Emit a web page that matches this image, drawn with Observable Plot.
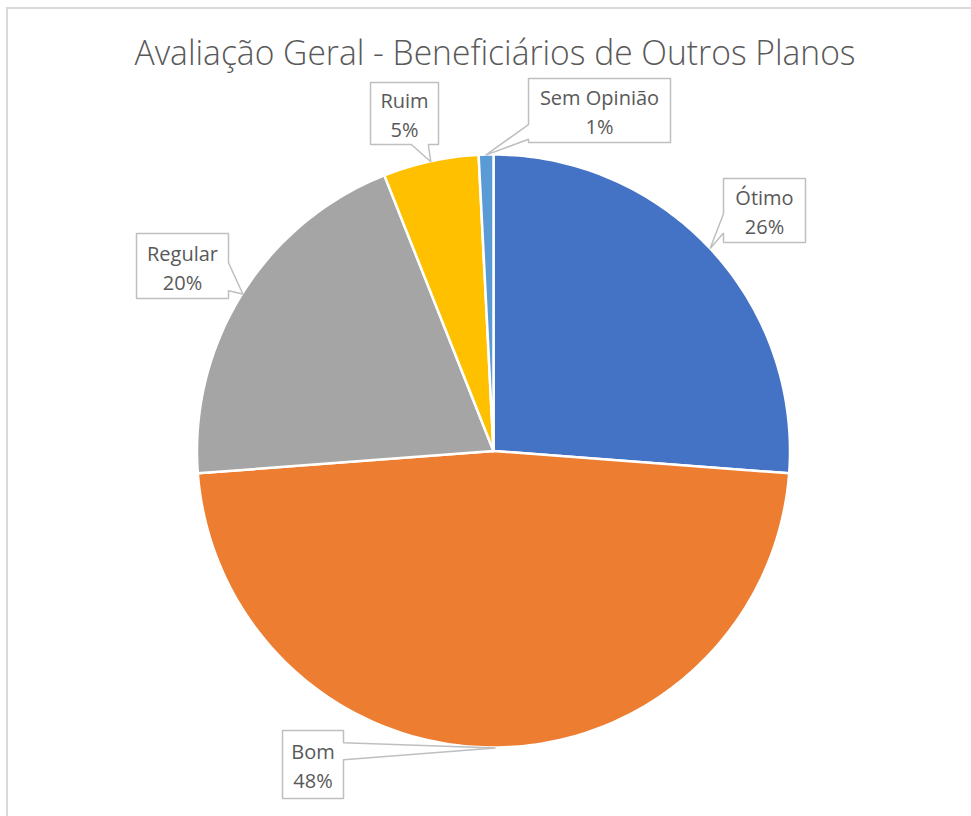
<!DOCTYPE html>
<html>
<head>
<meta charset="utf-8">
<script src="https://cdn.jsdelivr.net/npm/d3@7"></script>
<script src="https://cdn.jsdelivr.net/npm/@observablehq/plot@0.6"></script>
<style>
  html, body { margin: 0; padding: 0; background: #fff; }
  #wrap { position: relative; width: 971px; height: 816px; overflow: hidden; }
  #frame { position: absolute; left: 6px; top: 7px; width: 1000px; height: 1000px;
           border-left: 2px solid #d9d9d9; border-top: 2px solid #d9d9d9; box-sizing: border-box; }
  #title { position: absolute; top: 34px; left: 494.5px; transform-origin: 0 0;
           white-space: nowrap; font-family: "Open Sans", sans-serif; font-weight: 300;
           font-size: 35px; color: #595959; line-height: 1; }
  #chart { position: absolute; left: 0; top: 0; }
</style>
</head>
<body>
<div id="wrap">
  <div id="frame"></div>
  <div id="chart"></div>
  <div id="title"></div>
</div>
<script>
// ---- data ----
const title = "Avaliação Geral - Beneficiários de Outros Planos";
const categories = ["Ótimo", "Bom", "Regular", "Ruim", "Sem Opinião"];
const values = [26.2, 47.6, 20.2, 5.2, 0.8];
const colors = ["#4472C4", "#ED7D31", "#A5A5A5", "#FFC000", "#5B9BD5"];

// ---- layout (pixels) ----
const CX = 493.5, CY = 451, R = 296.5;
const labelLayout = {
  "Ótimo":       {box: [723, 178, 805, 242], side: "left",   base: [0.55, 0.85], tip: 46.8},
  "Bom":         {box: [282, 730, 343, 798], side: "right",  base: [0.18, 0.43], tip: 179.7},
  "Regular":     {box: [136, 233, 228, 298], side: "right",  base: [0.45, 0.88], tip: 302.1},
  "Ruim":        {box: [370, 82, 438, 144],  side: "bottom", base: [0.60, 0.85], tip: 347.7},
  "Sem Opinião": {box: [528, 78, 670, 142],  side: "left",   base: [0.72, 0.95], tip: 358.4}
};

// title: fit to reference width (721px) by horizontal scaling
const titleEl = document.getElementById("title");
titleEl.textContent = title;
{
  const w = titleEl.getBoundingClientRect().width;
  const s = 721 / w;
  titleEl.style.transform = `translateX(${-360.5}px) scaleX(${s})`;
}

const U = px => (px - CX) / R;
const V = py => (CY - py) / R;

// pie slices from values
const total = d3.sum(values);
const slices = [];
let acc = 0;
categories.forEach((c, i) => {
  const a0 = acc / total * 2 * Math.PI;
  acc += values[i];
  const a1 = acc / total * 2 * Math.PI;
  const n = Math.max(4, Math.ceil((a1 - a0) / (Math.PI / 180)));
  for (let k = 0; k <= n; ++k) {
    const a = a0 + (a1 - a0) * k / n;
    slices.push({key: c, x: Math.sin(a), y: Math.cos(a), x0: 0, y0: 0});
  }
});

// callouts
const callouts = [];
const labels = [];
categories.forEach((c, i) => {
  const L = labelLayout[c];
  const [x0, y0, x1, y1] = L.box;
  const w = x1 - x0, h = y1 - y0;
  const ta = L.tip * Math.PI / 180;
  const tip = [CX + R * Math.sin(ta), CY - R * Math.cos(ta)];
  const [f0, f1] = L.base;
  const pts = [[x0, y0]];
  if (L.side === "top") pts.push([x0 + f0 * w, y0], tip, [x0 + f1 * w, y0]);
  pts.push([x1, y0]);
  if (L.side === "right") pts.push([x1, y0 + f0 * h], tip, [x1, y0 + f1 * h]);
  pts.push([x1, y1]);
  if (L.side === "bottom") pts.push([x0 + f1 * w, y1], tip, [x0 + f0 * w, y1]);
  pts.push([x0, y1]);
  if (L.side === "left") pts.push([x0, y0 + f1 * h], tip, [x0, y0 + f0 * h]);
  pts.push([x0, y0]);
  pts.forEach(([px, py]) => callouts.push({key: c, x: U(px), y: V(py)}));
  labels.push({key: c, x: U((x0 + x1) / 2), y: V((y0 + y1) / 2),
               text: c + "\n" + Math.round(values[i] / total * 100) + "%"});
});

const chart = Plot.plot({
  width: 971,
  height: 816,
  margin: 0,
  style: {background: "transparent", fontFamily: "Open Sans, sans-serif"},
  x: {domain: [-1, 1], range: [CX - R, CX + R], axis: null},
  y: {domain: [-1, 1], range: [CY + R, CY - R], axis: null},
  color: {domain: categories, range: colors},
  marks: [
    Plot.area(slices, {x1: "x", y1: "y", x2: "x0", y2: "y0", z: "key", fill: "key",
                       stroke: "white", strokeWidth: 2.5, strokeLinejoin: "round"}),
    Plot.line(callouts, {x: "x", y: "y", z: "key", fill: "white", stroke: "#bfbfbf",
                         strokeWidth: 1.5, curve: "linear", strokeLinejoin: "miter"}),
    Plot.text(labels, {x: "x", y: "y", text: "text", fontSize: 20, fill: "#595959",
                       lineHeight: 1.45, textAnchor: "middle", lineAnchor: "middle"})
  ]
});
document.getElementById("chart").appendChild(chart);
</script>
</body>
</html>
